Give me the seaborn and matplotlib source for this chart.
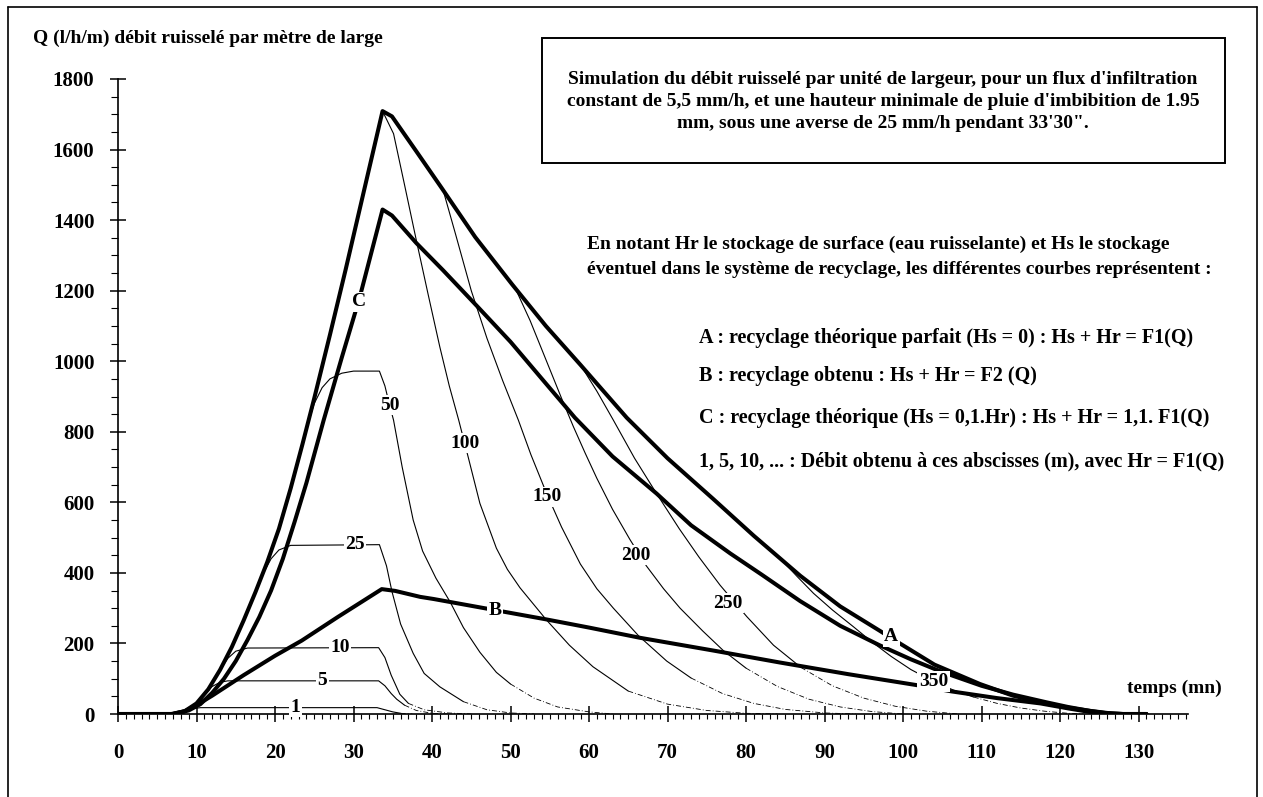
import matplotlib
matplotlib.use("Agg")
import matplotlib.pyplot as plt
from matplotlib.ticker import MultipleLocator
from matplotlib.lines import Line2D
from matplotlib.patches import Rectangle
import seaborn as sns

# ---- time (mn) / runoff per metre of width Q (l/h/m) ----
# A : perfect theoretical recycling
t_A = [0, 7, 8.5, 10, 11.5, 13, 14.5, 16, 17.5, 19, 20.5, 22, 23.5, 25, 27, 29, 31.3, 33.7, 34.9, 38,
       41.2, 45.5, 50.2, 54.5, 58.9, 64.8, 70, 75.8, 81, 86.9, 92, 97.1, 99.6, 104, 109.8, 114, 118.3,
       121, 123.8, 126, 128, 131]
q_A = [0, 0, 8, 30, 70, 125, 190, 265, 345, 430, 525, 640, 765, 895, 1075, 1260, 1480, 1709, 1694, 1595,
       1492, 1352, 1218, 1100, 990, 840, 725, 610, 505, 392, 305, 235, 200, 140, 85, 52, 30,
       18, 9, 3, 0, 0]

# C : theoretical recycling with Hs = 0,1.Hr
t_C = [0, 7, 9, 10.5, 12, 13.5, 15, 16.5, 18, 19.5, 21, 22.5, 24, 26.2, 28.5, 30.8, 33.7, 34.9, 38, 41.4,
       46, 50, 54, 58.2, 63, 68.6, 73, 78, 82, 86.9, 92, 97, 101, 104.3, 106.4, 110, 114, 118.3, 121, 124,
       126, 128, 131]
q_C = [0, 0, 10, 28, 60, 100, 150, 210, 275, 350, 440, 545, 655, 833, 1010, 1182, 1430, 1413, 1335, 1258,
       1150, 1055, 950, 840, 730, 625, 535, 455, 395, 320, 250, 195, 155, 125, 108, 80, 55, 33, 20, 8,
       2, 0, 0]

# B : recycling obtained
t_B = [0, 6.8, 8.5, 10, 12, 16, 20, 23.4, 28, 33.6, 35.3, 38.5, 40.2, 47.4, 54.6, 60, 66.5, 75.8, 84.3, 93,
       101.7, 106.2, 112, 117.5, 121, 124, 126, 131]
q_B = [0, 0, 8, 25, 52, 110, 165, 208, 275, 354, 349, 332, 326, 297, 268, 245, 216, 180, 146, 113,
       82, 64, 45, 30, 16, 5, 0, 0]

# flow at abscissa x (m) along the slope, Hr = F1(Q)
t_1 = [8.5, 9.5, 10.5, 11.5, 33, 34, 35, 36, 37.5]
q_1 = [8, 15, 18, 18, 18, 12, 6, 2, 0]
t_5 = [10, 11, 12, 13, 14, 33.2, 34, 34.8, 35.5, 36.5, 38, 40, 42]
q_5 = [30, 55, 78, 90, 94, 94, 80, 58, 42, 25, 10, 2, 0]
t_10 = [12, 13, 14, 15, 16.5, 33.2, 34, 34.8, 35.9, 37, 39, 42, 45]
q_10 = [88, 125, 158, 178, 187, 188, 160, 110, 56, 30, 12, 3, 0]
t_25 = [16.5, 17.5, 18.5, 19.5, 20.5, 22, 33.3, 34.2, 34.9, 36, 37.6, 39, 41, 44, 47, 50, 53]
q_25 = [290, 345, 398, 440, 465, 478, 480, 420, 347, 255, 172, 115, 77, 35, 12, 3, 0]
t_50 = [23, 24, 25, 26, 27, 28.5, 30, 33.3, 34, 34.6, 35.1, 36.2, 37.6, 38.8, 40.5, 42.3, 44, 46.1,
        48.2, 50, 53, 56, 60, 63]
q_50 = [722, 808, 880, 925, 950, 966, 972, 972, 930, 875, 833, 700, 550, 462, 385, 318, 245, 175,
        118, 85, 45, 20, 6, 0]
t_100 = [33.7, 35.1, 36.5, 38, 39.5, 41, 42.2, 43.4, 44.6, 46.1, 48.2, 49.6, 51.2, 54.6, 57.5, 60.5,
         65, 70, 75, 80, 84]
q_100 = [1709, 1645, 1500, 1343, 1190, 1040, 930, 833, 729, 597, 470, 410, 358, 266, 195, 134,
         65, 28, 10, 2, 0]
t_150 = [41.4, 43, 45, 47, 49, 51, 52.6, 54.6, 56.5, 58.9, 61, 63.1, 66.3, 69.9, 73, 77, 81, 85, 90, 94]
q_150 = [1486, 1360, 1200, 1065, 945, 833, 735, 625, 530, 425, 355, 300, 222, 150, 102, 58, 30, 13, 3, 0]
t_200 = [50.6, 52.5, 54.5, 56.5, 58, 59.5, 61, 63, 65.2, 67.3, 69.5, 71.6, 74.5, 77.1, 80, 84, 88, 92,
         96, 100]
q_200 = [1207, 1115, 1005, 895, 815, 740, 668, 580, 495, 420, 355, 300, 235, 180, 130, 78, 42, 20,
         7, 0]
t_250 = [58.9, 61, 63.1, 65.8, 68.6, 71.5, 74, 76.7, 80.1, 83.5, 87, 91, 95, 99, 103, 107]
q_250 = [990, 915, 833, 725, 625, 525, 445, 365, 276, 195, 132, 80, 45, 22, 8, 0]
t_350 = [84.3, 86.5, 88.6, 91, 93.7, 96, 98.5, 101, 103.9, 106.4, 109, 112, 115, 118, 121, 123]
q_350 = [442, 390, 342, 295, 247, 205, 163, 126, 92, 68, 48, 30, 17, 8, 2, 0]

abscissa_curves = {
    "1": (t_1, q_1), "5": (t_5, q_5), "10": (t_10, q_10), "25": (t_25, q_25),
    "50": (t_50, q_50), "100": (t_100, q_100), "150": (t_150, q_150),
    "200": (t_200, q_200), "250": (t_250, q_250), "350": (t_350, q_350),
}

x_ticks = list(range(0, 131, 10))
y_ticks = list(range(0, 1801, 200))

# ---- styling ----
sns.set_theme(style="ticks")
plt.rcParams["font.family"] = ["Liberation Serif", "DejaVu Serif"]
plt.rcParams["font.weight"] = "bold"
for key in ["text.color", "axes.labelcolor", "xtick.color", "ytick.color", "axes.edgecolor"]:
    plt.rcParams[key] = "black"

W, H = 1263, 797
fig = plt.figure(figsize=(W / 100, H / 100), dpi=100)
fig.patch.set_facecolor("white")


def fx(px):
    return px / W


def fy(py):
    return 1 - py / H


ax = fig.add_axes([fx(118), fy(714), fx(1188) - fx(118), fy(79) - fy(714)])
ax.set_facecolor("white")

# thick curves A, C, B
for t, q in [(t_A, q_A), (t_C, q_C), (t_B, q_B)]:
    sns.lineplot(x=t, y=q, ax=ax, color="black", lw=2.9, sort=False, estimator=None,
                 legend=False, solid_joinstyle="round", zorder=3)

# thin curves: solid while the flow is high, broken line in the low tail
tail_below = {"1": 6, "5": 40, "10": 50, "25": 75, "50": 115, "100": 130,
              "150": 145, "200": 170, "250": 190, "350": 60}
for name, (t, q) in abscissa_curves.items():
    i_max = q.index(max(q))
    k = next((i for i in range(i_max, len(q)) if q[i] < tail_below[name]), len(q) - 1)
    sns.lineplot(x=t[:k + 1], y=q[:k + 1], ax=ax, color="black", lw=0.8, sort=False,
                 estimator=None, legend=False, zorder=2)
    sns.lineplot(x=t[k:], y=q[k:], ax=ax, color="black", lw=0.6, sort=False,
                 estimator=None, legend=False, zorder=2, linestyle=(0, (6, 2.5, 1, 2.5)))

# curve labels, drawn over the lines
label_pos = {"1": (22.6, 19), "5": (26.0, 94), "10": (28.3, 188), "25": (30.2, 480),
             "50": (34.6, 875), "100": (44.2, 767), "150": (54.6, 616), "200": (65.9, 450),
             "250": (77.7, 314), "350": (103.9, 92)}
for name in abscissa_curves:
    lx, ly = label_pos[name]
    ax.text(lx, ly, name, ha="center", va="center", fontsize=14, fontweight="bold", zorder=4,
            bbox=dict(boxstyle="square,pad=0.08", fc="white", ec="none"))
for name, (lx, ly) in {"A": (98.5, 219), "B": (48.0, 292), "C": (30.7, 1168)}.items():
    ax.text(lx, ly, name, ha="center", va="center", fontsize=14, fontweight="bold", zorder=4,
            bbox=dict(boxstyle="square,pad=0.08", fc="white", ec="none"))

# axes
ax.set_xlim(0, 136.3)
ax.set_ylim(0, 1800)
ax.set_xticks(x_ticks)
ax.set_yticks(y_ticks)
ax.xaxis.set_minor_locator(MultipleLocator(1))
ax.yaxis.set_minor_locator(MultipleLocator(50))
ax.grid(False)
sns.despine(ax=ax)
for s in ["left", "bottom"]:
    ax.spines[s].set_linewidth(1.2)
    ax.spines[s].set_color("black")
ax.tick_params(axis="x", which="major", direction="inout", length=12, width=1.1, pad=15,
               labelsize=15, bottom=True)
ax.tick_params(axis="x", which="minor", direction="out", length=3.5, width=0.8, bottom=True)
ax.tick_params(axis="y", which="major", direction="inout", length=12, width=1.1, pad=11,
               labelsize=15, left=True)
ax.tick_params(axis="y", which="minor", direction="out", length=5, width=0.8, left=True)
for lab in ax.get_xticklabels() + ax.get_yticklabels():
    lab.set_fontweight("bold")
ax.set_xlabel("")
ax.set_ylabel("")

# page frame
frame = dict(transform=fig.transFigure, color="black", lw=1.2)
fig.add_artist(Line2D([fx(8), fx(8)], [fy(7), fy(797)], **frame))
fig.add_artist(Line2D([fx(8), fx(1257)], [fy(7), fy(7)], **frame))
fig.add_artist(Line2D([fx(1257), fx(1257)], [fy(7), fy(797)], **frame))

# titles and notes
fig.text(fx(33), fy(38), "Q (l/h/m) débit ruisselé par mètre de large", ha="left", va="center",
         fontsize=14, fontweight="bold")
fig.text(fx(1127), fy(688), "temps (mn)", ha="left", va="center", fontsize=14, fontweight="bold")

fig.add_artist(Rectangle((fx(542), fy(163)), fx(1225) - fx(542), fy(38) - fy(163),
                         transform=fig.transFigure, fill=False, ec="black", lw=1.4))
box_lines = [
    "Simulation du débit ruisselé par unité de largeur, pour un flux d'infiltration",
    "constant de 5,5 mm/h, et une hauteur minimale de pluie d'imbibition de 1.95",
    "mm, sous une averse de 25 mm/h pendant 33'30\".",
]
for py, s in zip([80, 102, 124], box_lines):
    fig.text(fx(883), fy(py), s, ha="center", va="center", fontsize=14, fontweight="bold")

para = [
    "En notant Hr le stockage de surface (eau ruisselante) et Hs le stockage",
    "éventuel dans le système de recyclage, les différentes courbes représentent :",
]
for py, s in zip([244, 270], para):
    fig.text(fx(587), fy(py), s, ha="left", va="center", fontsize=14, fontweight="bold")

legend_lines = [
    "A : recyclage théorique parfait (Hs = 0) : Hs + Hr = F1(Q)",
    "B : recyclage obtenu : Hs + Hr = F2 (Q)",
    "C : recyclage théorique (Hs = 0,1.Hr) : Hs + Hr = 1,1. F1(Q)",
    "1, 5, 10, ... : Débit obtenu à ces abscisses (m), avec Hr = F1(Q)",
]
for py, s in zip([338, 376, 418, 461], legend_lines):
    fig.text(fx(699), fy(py), s, ha="left", va="center", fontsize=14.5, fontweight="bold")

fig.savefig("out.png", dpi=100, facecolor="white")
